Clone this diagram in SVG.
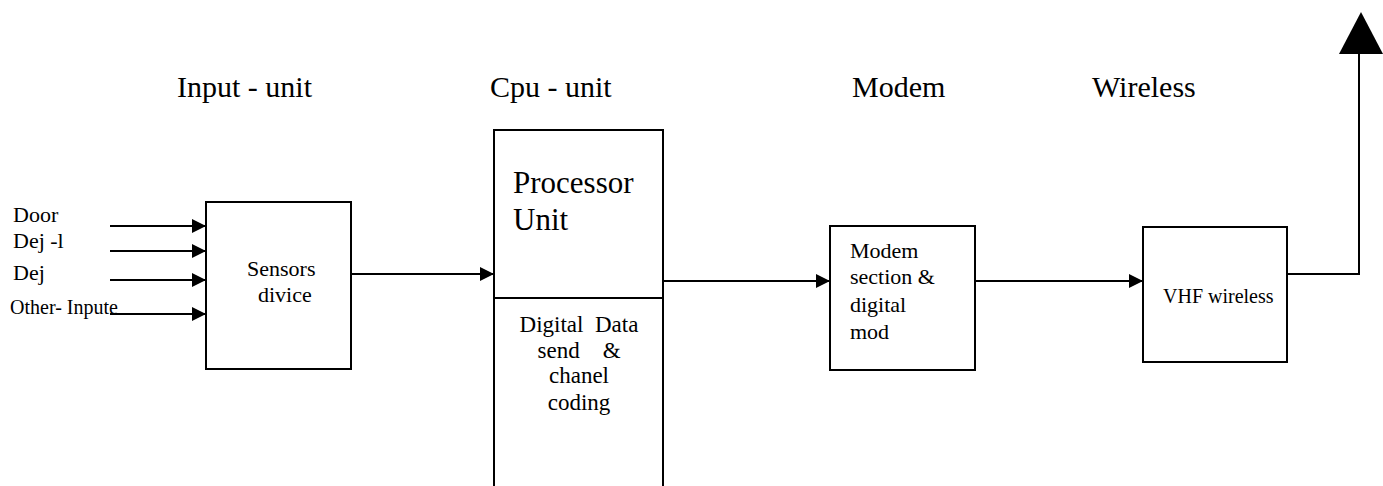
<svg xmlns="http://www.w3.org/2000/svg" width="1383" height="486" viewBox="0 0 1383 486" font-family="'Liberation Serif', 'Times New Roman', serif">
  <style>
    .box { fill: #fff; stroke: #000; stroke-width: 2; }
    .wire { fill: none; stroke: #000; stroke-width: 2; }
    .serif { font-family: 'Liberation Serif', 'Times New Roman', serif; fill: #000; }
  </style>
  <defs>
    <marker id="arrow" viewBox="0 0 14 14" refX="14" refY="7" markerWidth="14" markerHeight="14" markerUnits="userSpaceOnUse" orient="auto">
      <path d="M0,0 L14,7 L0,14 Z" fill="#000"/>
    </marker>
  </defs>

  <!-- section headings -->
  <g id="headings" class="serif" font-size="30">
    <text x="177" y="97">Input - unit</text>
    <text x="490" y="97">Cpu - unit</text>
    <text x="852" y="97">Modem</text>
    <text x="1092" y="97">Wireless</text>
  </g>

  <!-- input signal labels -->
  <g id="inputs" class="serif" font-size="22">
    <text x="13" y="222">Door</text>
    <text x="13" y="248">Dej -l</text>
    <text x="13" y="280">Dej</text>
    <text x="10" y="314" font-size="20">Other- Inpute</text>
  </g>

  <g id="sensors" class="serif" font-size="22">
    <rect class="box" x="206" y="202" width="145" height="167"/>
    <text x="247" y="276">Sensors</text>
    <text x="258" y="302">divice</text>
  </g>

  <g id="processor" class="serif">
    <rect class="box" x="494" y="130" width="169" height="370"/>
    <line class="wire" x1="494" y1="298" x2="663" y2="298"/>
    <text x="513" y="193" font-size="31">Processor</text>
    <text x="513" y="230" font-size="31">Unit</text>
    <g font-size="23" text-anchor="middle">
      <text x="579" y="332" xml:space="preserve">Digital  Data</text>
      <text x="579" y="358" xml:space="preserve">send    &amp;</text>
      <text x="579" y="383">chanel</text>
      <text x="579" y="410">coding</text>
    </g>
  </g>

  <g id="modem" class="serif" font-size="22">
    <rect class="box" x="830" y="226" width="145" height="144"/>
    <text x="850" y="258">Modem</text>
    <text x="850" y="284">section &amp;</text>
    <text x="850" y="312">digital</text>
    <text x="850" y="339">mod</text>
  </g>

  <g id="vhf" class="serif" font-size="20">
    <rect class="box" x="1143" y="227" width="144" height="135"/>
    <text x="1163" y="303">VHF wireless</text>
  </g>

  <!-- connectors -->
  <g id="connectors">
    <line class="wire" x1="110" y1="226" x2="206" y2="226" marker-end="url(#arrow)"/>
    <line class="wire" x1="110" y1="251" x2="206" y2="251" marker-end="url(#arrow)"/>
    <line class="wire" x1="110" y1="280" x2="206" y2="280" marker-end="url(#arrow)"/>
    <line class="wire" x1="110" y1="314" x2="206" y2="314" marker-end="url(#arrow)"/>
    <line class="wire" x1="351" y1="274" x2="494" y2="274" marker-end="url(#arrow)"/>
    <line class="wire" x1="663" y1="281" x2="830" y2="281" marker-end="url(#arrow)"/>
    <line class="wire" x1="975" y1="281" x2="1143" y2="281" marker-end="url(#arrow)"/>
    <polyline class="wire" points="1287,274 1359,274 1359,50"/>
    <path d="M1361,12 L1383,54 L1339,54 Z" fill="#000"/>
  </g>
</svg>
